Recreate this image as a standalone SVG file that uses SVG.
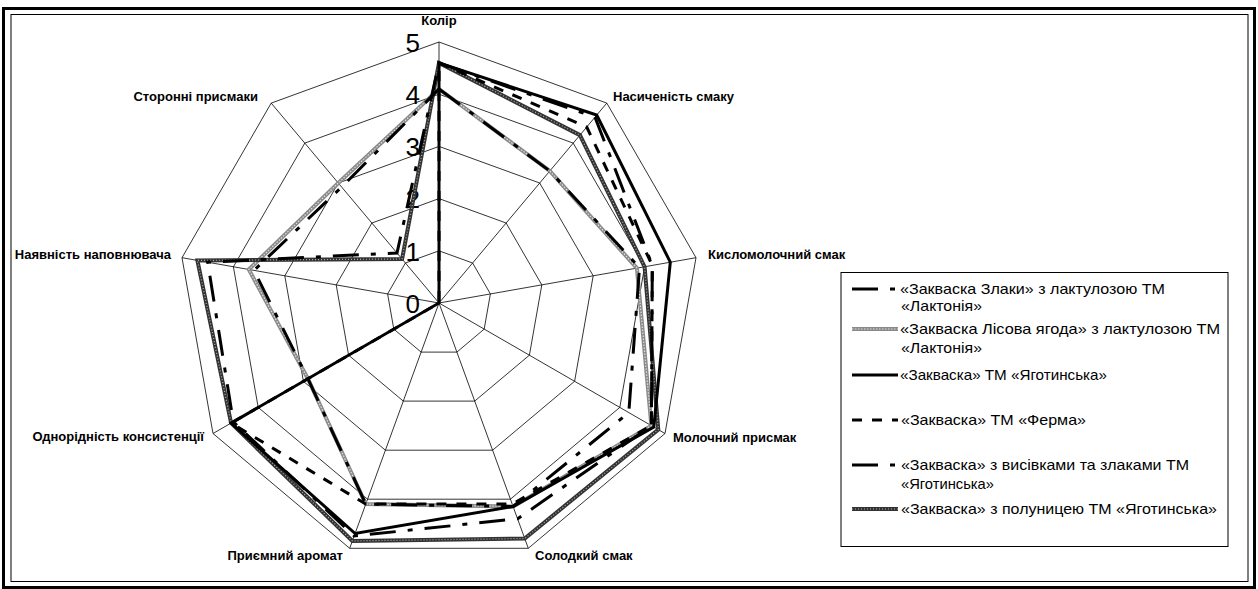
<svg xmlns="http://www.w3.org/2000/svg" width="1258" height="589" viewBox="0 0 1258 589">
<style>
.grid{fill:none;stroke:#000;stroke-width:0.8}
.ax{font-family:"Liberation Sans",Arial,sans-serif;font-weight:bold;font-size:13px;fill:#000}
.num{font-family:"Liberation Sans",Arial,sans-serif;font-size:26px;fill:#000;text-anchor:end}
.lg{font-family:"Liberation Sans",Arial,sans-serif;font-size:14.5px;fill:#000}
.s{fill:none;stroke-linejoin:miter}
.sA{stroke:#000;stroke-width:3;stroke-dasharray:26 12 5 12}
.sE{stroke:#000;stroke-width:3;stroke-dasharray:26 12 5 12}
.sC{stroke:#000;stroke-width:3}
.sD{stroke:#000;stroke-width:3;stroke-dasharray:10 10}
.sB1{stroke:#8a8a8a;stroke-width:4}
.sB2{stroke:#e0e0e0;stroke-width:1.2;stroke-dasharray:1.5 1.5}
.sF1{stroke:#333;stroke-width:4}
.sF2{stroke:#b0b0b0;stroke-width:1.2;stroke-dasharray:1 2}
</style>
<rect x="0" y="0" width="1258" height="589" fill="#fff"/>
<g id="frame" fill="none" stroke="#000">
<rect x="3.5" y="8.5" width="1251" height="579" stroke-width="3"/>
<rect x="11" y="14.5" width="1237" height="567" stroke-width="1"/>
</g>
<g id="grid">
<polygon class="grid" points="439,42 606.8,103.1 696,257.7 665,433.5 528.3,548.3 349.7,548.3 213,433.5 182,257.7 271.2,103.1"/>
<polygon class="grid" points="439,94.2 573.2,143.1 644.6,266.8 619.8,407.4 510.4,499.2 367.6,499.2 258.2,407.4 233.4,266.8 304.8,143.1"/>
<polygon class="grid" points="439,146.4 539.7,183 593.2,275.8 574.6,381.3 492.6,450.2 385.4,450.2 303.4,381.3 284.8,275.8 338.3,183"/>
<polygon class="grid" points="439,198.6 506.1,223 541.8,284.9 529.4,355.2 474.7,401.1 403.3,401.1 348.6,355.2 336.2,284.9 371.9,223"/>
<polygon class="grid" points="439,250.8 472.6,263 490.4,293.9 484.2,329.1 456.9,352.1 421.1,352.1 393.8,329.1 387.6,293.9 405.4,263"/>
<path class="grid" d="M439,303L439,42M439,303L606.8,103.1M439,303L696,257.7M439,303L665,433.5M439,303L528.3,548.3M439,303L349.7,548.3M439,303L213,433.5M439,303L182,257.7M439,303L271.2,103.1"/>
</g>
<g id="scale">
<text class="num" x="420" y="52">5</text>
<text class="num" x="420" y="104">4</text>
<text class="num" x="420" y="156">3</text>
<text class="num" x="420" y="208">2</text>
<text class="num" x="420" y="261">1</text>
<text class="num" x="420" y="313">0</text>
</g>
<g id="axis-labels">
<text class="ax" x="439" y="25" text-anchor="middle">Колір</text>
<text class="ax" x="613" y="101">Насиченість смаку</text>
<text class="ax" x="708" y="259">Кисломолочний смак</text>
<text class="ax" x="673" y="442">Молочний присмак</text>
<text class="ax" x="535" y="560">Солодкий смак</text>
<text class="ax" x="343" y="560" text-anchor="end">Приємний аромат</text>
<text class="ax" x="204" y="441" text-anchor="end">Однорідність консистенції</text>
<text class="ax" x="171" y="259" text-anchor="end">Наявність наповнювача</text>
<text class="ax" x="258" y="101" text-anchor="end">Сторонні присмаки</text>
</g>
<g id="connectors">
<g id="series-B">
<polygon class="s sB1" points="439,89 549.8,171 636.9,268.1 651.4,425.7 513.1,506.5 365.8,504.1 307.9,378.7 248.8,269.5 338.3,183"/>
<polygon class="s sB2" points="439,89 549.8,171 636.9,268.1 651.4,425.7 513.1,506.5 365.8,504.1 307.9,378.7 248.8,269.5 338.3,183"/>
</g>
<g id="series-F">
<polygon class="s sF1" points="439,62.9 579.9,135.1 644.6,266.8 658.3,429.6 524.7,538.5 352.4,540.9 231.1,423.1 197.4,260.4 402.1,259"/>
<polygon class="s sF2" points="439,62.9 579.9,135.1 644.6,266.8 658.3,429.6 524.7,538.5 352.4,540.9 231.1,423.1 197.4,260.4 402.1,259"/>
</g>
<polygon id="series-C" class="s sC" points="439,62.9 596.7,115.1 670.3,262.2 653.8,427 513.1,506.5 355.1,533.5 231.1,423.1 439,303 439,303"/>
<polygon id="series-D" class="s sD" points="439,62.9 586.7,127 652.3,265.4 651.4,425.7 512.2,504.1 365.8,504.1 231.1,423.1 439,303 439,303"/>
<polygon id="series-A" class="s sA" points="439,89 549.8,171 639.5,267.7 628.8,412.6 513.1,506.5 365.8,504.1 307.9,378.7 254,270.4 341.7,187"/>
<polygon id="series-E" class="s sE" points="439,62.9 595,117.1 652.3,265.4 651.4,425.7 517.6,518.8 354.2,536 233.3,421.8 207.7,262.2 397,253"/>
</g>
<g id="legend">
<rect x="841" y="272.5" width="387" height="274" fill="none" stroke="#000" stroke-width="1"/>
<line x1="852" y1="289" x2="898" y2="289" class="s sA"/>
<text class="lg" x="900" y="294" textLength="265" lengthAdjust="spacingAndGlyphs">«Закваска Злаки» з лактулозою ТМ</text>
<text class="lg" x="901" y="311" textLength="81" lengthAdjust="spacingAndGlyphs">«Лактонія»</text>
<line x1="852" y1="329" x2="898" y2="329" class="s sB1"/>
<line x1="852" y1="329" x2="898" y2="329" class="s sB2"/>
<text class="lg" x="900" y="334" textLength="320" lengthAdjust="spacingAndGlyphs">«Закваска Лісова ягода» з лактулозою ТМ</text>
<text class="lg" x="901" y="353" textLength="81" lengthAdjust="spacingAndGlyphs">«Лактонія»</text>
<line x1="852" y1="375" x2="898" y2="375" class="s sC"/>
<text class="lg" x="900" y="380" textLength="207" lengthAdjust="spacingAndGlyphs">«Закваска» ТМ «Яготинська»</text>
<line x1="852" y1="420" x2="898" y2="420" class="s sD"/>
<text class="lg" x="901" y="425" textLength="185" lengthAdjust="spacingAndGlyphs">«Закваска» ТМ «Ферма»</text>
<line x1="852" y1="465" x2="898" y2="465" class="s sE"/>
<text class="lg" x="901" y="470" textLength="288" lengthAdjust="spacingAndGlyphs">«Закваска» з висівками та злаками ТМ</text>
<text class="lg" x="901" y="489" textLength="93" lengthAdjust="spacingAndGlyphs">«Яготинська»</text>
<line x1="852" y1="509" x2="898" y2="509" class="s sF1"/>
<line x1="852" y1="509" x2="898" y2="509" class="s sF2"/>
<text class="lg" x="901" y="514" textLength="316" lengthAdjust="spacingAndGlyphs">«Закваска» з полуницею ТМ «Яготинська»</text>
</g>
</svg>
